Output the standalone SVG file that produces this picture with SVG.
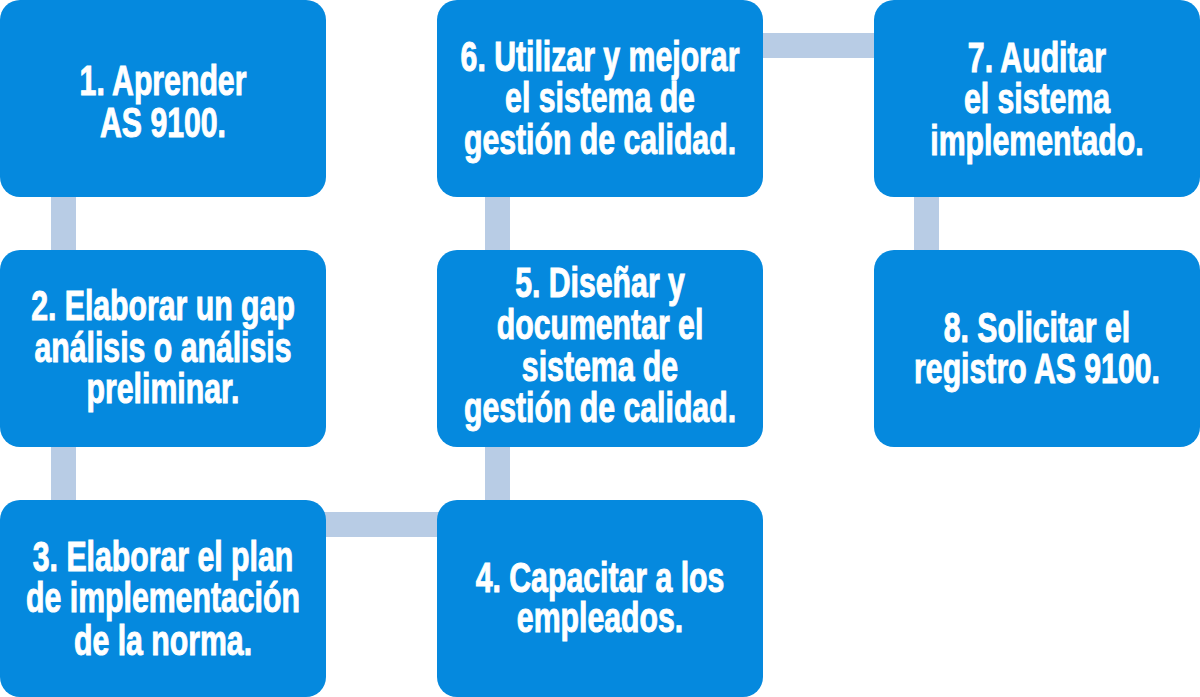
<svg xmlns="http://www.w3.org/2000/svg" width="1200" height="697" viewBox="0 0 1200 697">
<style>
.box{fill:#0589DE}
.con{fill:#B8CCE5}
.t{font-family:"Liberation Sans",Arial,sans-serif;font-weight:bold;font-size:42px;fill:#FFFFFF;stroke:#FFFFFF;stroke-width:1;text-anchor:middle}
</style>
<rect width="1200" height="697" fill="#FFFFFF"/>
<g id="connectors">
<rect class="con" x="51" y="190" width="25" height="66"/>
<rect class="con" x="51" y="440" width="25" height="66"/>
<rect class="con" x="320" y="512" width="123" height="25"/>
<rect class="con" x="485" y="440" width="25" height="66"/>
<rect class="con" x="485" y="190" width="25" height="66"/>
<rect class="con" x="757" y="33" width="123" height="25"/>
<rect class="con" x="914" y="190" width="25" height="66"/>
</g>
<g id="node1">
<rect class="box" x="0" y="0" width="326" height="197" rx="20"/>
<g transform="translate(163 0) scale(0.72 1)"><text class="t" x="0" y="95">1. Aprender</text><text class="t" x="0" y="137">AS 9100.</text></g>
</g>
<g id="node2">
<rect class="box" x="0" y="250" width="326" height="197" rx="20"/>
<g transform="translate(163 0) scale(0.72 1)"><text class="t" x="0" y="320">2. Elaborar un gap</text><text class="t" x="0" y="362">análisis o análisis</text><text class="t" x="0" y="403">preliminar.</text></g>
</g>
<g id="node3">
<rect class="box" x="0" y="500" width="326" height="197" rx="20"/>
<g transform="translate(163 0) scale(0.72 1)"><text class="t" x="0" y="571">3. Elaborar el plan</text><text class="t" x="0" y="612">de implementación</text><text class="t" x="0" y="655">de la norma.</text></g>
</g>
<g id="node4">
<rect class="box" x="437" y="500" width="326" height="197" rx="20"/>
<g transform="translate(600 0) scale(0.72 1)"><text class="t" x="0" y="592">4. Capacitar a los</text><text class="t" x="0" y="632">empleados.</text></g>
</g>
<g id="node5">
<rect class="box" x="437" y="250" width="326" height="197" rx="20"/>
<g transform="translate(600 0) scale(0.72 1)"><text class="t" x="0" y="297">5. Diseñar y</text><text class="t" x="0" y="339">documentar el</text><text class="t" x="0" y="381">sistema de</text><text class="t" x="0" y="422">gestión de calidad.</text></g>
</g>
<g id="node6">
<rect class="box" x="437" y="0" width="326" height="197" rx="20"/>
<g transform="translate(600 0) scale(0.72 1)"><text class="t" x="0" y="71">6. Utilizar y mejorar</text><text class="t" x="0" y="112">el sistema de</text><text class="t" x="0" y="154">gestión de calidad.</text></g>
</g>
<g id="node7">
<rect class="box" x="874" y="0" width="326" height="197" rx="20"/>
<g transform="translate(1037 0) scale(0.72 1)"><text class="t" x="0" y="72">7. Auditar</text><text class="t" x="0" y="113">el sistema</text><text class="t" x="0" y="155">implementado.</text></g>
</g>
<g id="node8">
<rect class="box" x="874" y="250" width="326" height="197" rx="20"/>
<g transform="translate(1037 0) scale(0.72 1)"><text class="t" x="0" y="342">8. Solicitar el</text><text class="t" x="0" y="383">registro AS 9100.</text></g>
</g>
</svg>
